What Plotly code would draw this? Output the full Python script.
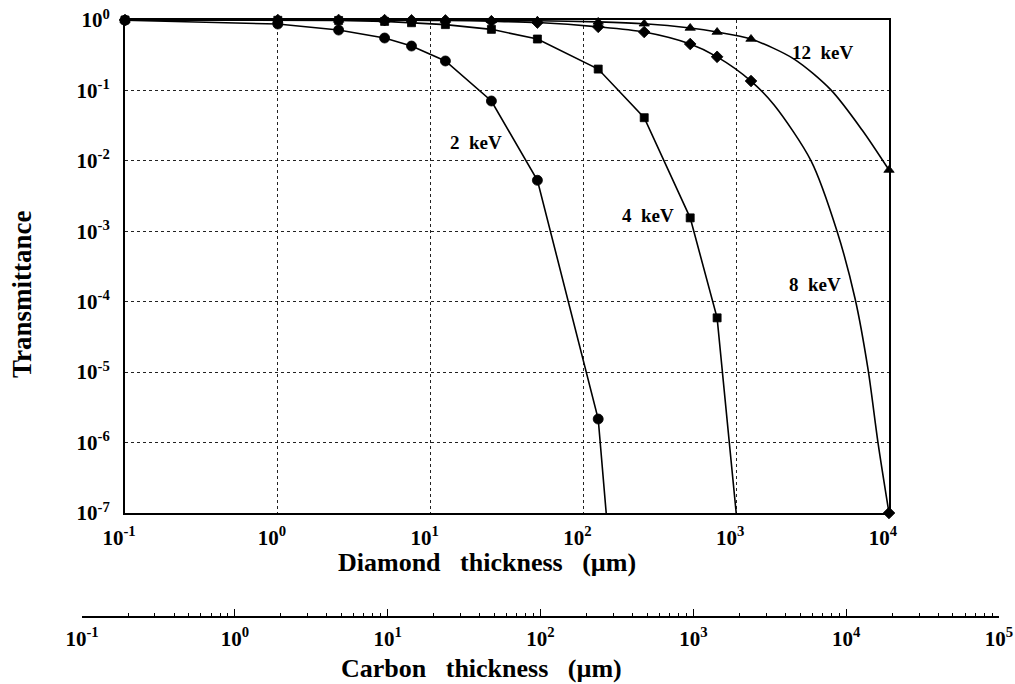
import math
import plotly.graph_objects as go

# ---------------- data ----------------
diamond_tickvals = [0.1, 1, 10, 100, 1000, 10000]
diamond_ticktext = ["10<sup>-1</sup>", "10<sup>0</sup>", "10<sup>1</sup>",
                    "10<sup>2</sup>", "10<sup>3</sup>", "10<sup>4</sup>"]
trans_tickvals = [1e-7, 1e-6, 1e-5, 1e-4, 1e-3, 1e-2, 1e-1, 1]
trans_ticktext = ["10<sup>-7</sup>", "10<sup>-6</sup>", "10<sup>-5</sup>", "10<sup>-4</sup>",
                  "10<sup>-3</sup>", "10<sup>-2</sup>", "10<sup>-1</sup>", "10<sup>0</sup>"]
carbon_tickvals = [0.1, 1, 10, 100, 1000, 10000, 100000]
carbon_ticktext = ["10<sup>-1</sup>", "10<sup>0</sup>", "10<sup>1</sup>", "10<sup>2</sup>",
                   "10<sup>3</sup>", "10<sup>4</sup>", "10<sup>5</sup>"]

# 2 keV (circles)
kev2_x = [0.1, 1, 2.5, 5, 7.5, 12.5, 25, 50, 125, 141]
kev2_y = [0.99, 0.877, 0.72, 0.555, 0.427, 0.262, 0.0708, 0.0053, 2.16e-6, 1e-7]
kev2_marked = [1, 1, 1, 1, 1, 1, 1, 1, 1, 0]

# 4 keV (squares)
kev4_x = [0.1, 1, 2.5, 5, 7.5, 12.5, 25, 50, 125, 250, 500, 750, 1000]
kev4_y = [1.0, 0.99, 0.985, 0.955, 0.915, 0.86, 0.737, 0.537, 0.201, 0.041, 0.00155, 5.9e-5, 1e-7]
kev4_marked = [1, 1, 1, 1, 1, 1, 1, 1, 1, 1, 1, 1, 0]

# 8 keV (diamonds)
kev8_x = [0.1, 1, 2.5, 5, 7.5, 12.5, 25, 50, 125, 250, 500, 750, 1250,
          1771, 3090, 4570, 6000, 7290, 8470, 10000]
kev8_y = [1.0, 1.0, 1.0, 0.995, 0.99, 0.985, 0.96, 0.92, 0.80, 0.675, 0.456, 0.30, 0.136,
          0.0621, 0.01, 1e-3, 1.1e-4, 1.1e-5, 1.0e-6, 1e-7]
kev8_marked = [1, 1, 1, 1, 1, 1, 1, 1, 1, 1, 1, 1, 1, 0, 0, 0, 0, 0, 0, 1]

# 12 keV (triangles)
kev12_x = [0.1, 1, 2.5, 5, 7.5, 12.5, 25, 50, 125, 250, 500, 750, 1250,
           2393, 4180, 6670, 10000]
kev12_y = [1.0, 1.0, 1.0, 1.0, 1.0, 0.995, 0.99, 0.975, 0.94, 0.885, 0.77, 0.675, 0.537,
           0.279, 0.101, 0.0274, 0.0074]
kev12_marked = [1, 1, 1, 1, 1, 1, 1, 1, 1, 1, 1, 1, 1, 0, 0, 0, 1]

curve_labels = ["2\u00a0\u00a0keV", "4\u00a0\u00a0keV", "8\u00a0\u00a0keV", "12\u00a0\u00a0keV"]
label_x = [19.7, 266, 3280, 3710]
label_y = [0.018, 0.0017, 1.73e-4, 0.34]

# ---------------- figure ----------------
W, H = 1015, 684
FONT = "Liberation Serif"

def px_x(p):
    return p / W

def px_y(p):
    return 1 - p / H

fig = go.Figure()

series = [
    (kev2_x, kev2_y, kev2_marked, "circle", 10, "linear"),
    (kev4_x, kev4_y, kev4_marked, "square", 8, "linear"),
    (kev8_x, kev8_y, kev8_marked, "diamond", 9, "spline"),
    (kev12_x, kev12_y, kev12_marked, "triangle-up", 9, "spline"),
]
for xs, ys, marked, sym, sz, shape in series:
    fig.add_trace(go.Scatter(
        x=xs, y=ys, mode="lines+markers",
        line=dict(color="black", width=1.6, shape=shape, smoothing=0.8),
        marker=dict(symbol=sym, size=[sz if m else 0 for m in marked], color="black",
                    opacity=1, line=dict(width=0.8, color="black")),
        cliponaxis=False, showlegend=False, hoverinfo="skip",
    ))

# dummy trace for the carbon thickness axis
fig.add_trace(go.Scatter(x=[None], y=[None], xaxis="x2", yaxis="y2",
                         showlegend=False, hoverinfo="skip"))

tickfont = dict(family=FONT, size=21, color="black", weight="bold")

fig.update_layout(
    template="none",
    width=W, height=H,
    margin=dict(l=0, r=0, t=0, b=0),
    paper_bgcolor="white", plot_bgcolor="white",
    showlegend=False,
    xaxis=dict(
        type="log", range=[-1, 4], domain=[px_x(125), px_x(889)], anchor="y",
        tickmode="array", tickvals=diamond_tickvals, ticktext=diamond_ticktext,
        tickfont=tickfont, ticks="", showgrid=True, gridcolor="#222",
        gridwidth=1, griddash="dot", showline=True, linecolor="black",
        linewidth=2, mirror=True, zeroline=False, automargin=False,
        ticklabelshift=-6, ticklabelstandoff=5,
    ),
    yaxis=dict(
        type="log", range=[-7, 0], domain=[px_y(513), px_y(20)], anchor="x",
        tickmode="array", tickvals=trans_tickvals, ticktext=trans_ticktext,
        tickfont=tickfont, ticks="", showgrid=True, gridcolor="#222",
        gridwidth=1, griddash="dot", showline=True, linecolor="black",
        linewidth=2, mirror=True, zeroline=False, automargin=False,
        ticklabelstandoff=9,
    ),
    xaxis2=dict(
        type="log", range=[-1, 5], domain=[px_x(82), px_x(999)], anchor="y2",
        tickmode="array", tickvals=carbon_tickvals, ticktext=carbon_ticktext,
        tickfont=tickfont, ticks="inside", ticklen=7, tickwidth=1.2, tickcolor="black",
        minor=dict(ticks="inside", ticklen=3, tickwidth=1, tickcolor="black",
                   tickvals=[m * 10 ** k for k in range(-1, 5) for m in range(2, 10)],
                   showgrid=False),
        showgrid=False, showline=True, linecolor="black", linewidth=1.6,
        zeroline=False, automargin=False, ticklabelstandoff=3,
    ),
    yaxis2=dict(domain=[px_y(616), px_y(612)], anchor="x2", visible=False,
                range=[0, 1]),
)

annotations = []
for txt, lx, ly in zip(curve_labels, label_x, label_y):
    annotations.append(dict(
        text=txt, x=math.log10(lx), y=math.log10(ly), xref="x", yref="y",
        showarrow=False, xanchor="center", yanchor="middle",
        font=dict(family=FONT, size=19, color="black", weight="bold"),
    ))

titlefont = dict(family=FONT, size=26, color="black", weight="bold")
gap = "\u00a0\u00a0\u00a0"
annotations.append(dict(text="Diamond" + gap + "thickness" + gap + "(\u00b5m)",
                        x=px_x(487), y=px_y(562), xref="paper", yref="paper",
                        showarrow=False, xanchor="center", yanchor="middle", font=titlefont))
annotations.append(dict(text="Carbon" + gap + "thickness" + gap + "(\u00b5m)",
                        x=px_x(481), y=px_y(668), xref="paper", yref="paper",
                        showarrow=False, xanchor="center", yanchor="middle", font=titlefont))
annotations.append(dict(text="Transmittance", textangle=-90,
                        x=px_x(22), y=px_y(295), xref="paper", yref="paper",
                        showarrow=False, xanchor="center", yanchor="middle",
                        font=dict(family=FONT, size=27, color="black", weight="bold")))
fig.update_layout(annotations=annotations)

fig.write_html("out.html")
